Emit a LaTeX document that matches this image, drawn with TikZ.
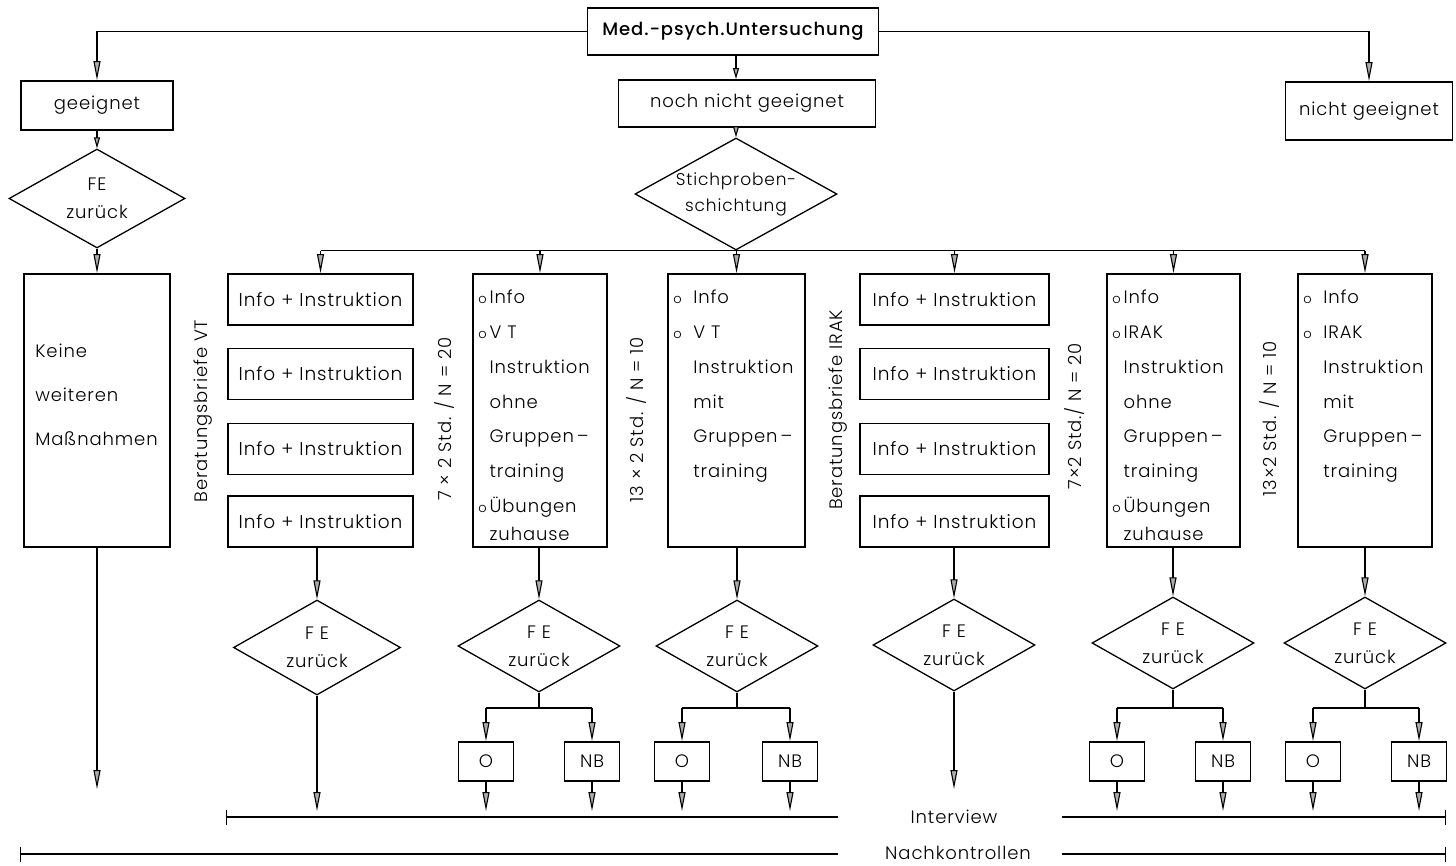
\documentclass[tikz,border=0pt]{standalone}
\usepackage{fontspec}
\setmainfont{Poppins}[UprightFont={* Light}, BoldFont={* Medium}, LetterSpace=5]
\usetikzlibrary{arrows.meta,shapes.geometric}
\newcommand\bul{{\fontsize{13}{13}\selectfont o}}
\begin{document}
\begin{tikzpicture}[x=1pt,y=-1pt,
  font=\fontsize{18}{22}\selectfont,
  box/.style={draw, line width=1.8pt, inner sep=0pt},
  dia/.style={draw, diamond, aspect=1.75, line width=1.3pt, inner sep=0pt, align=center,
     minimum width=162pt, minimum height=92pt, font=\fontsize{18}{28}\selectfont},
  info/.style={box, minimum height=51pt, font=\fontsize{18.5}{22}\selectfont},
  wide/.style={box, minimum height=273pt},
  small/.style={box, minimum width=55pt, minimum height=39pt},
  lst/.style={inner sep=0pt, anchor=north west, align=left, font=\fontsize{18}{34.7}\selectfont},
  vlab/.style={rotate=90, inner sep=0pt},
  con/.style={line width=1.1pt},
  arr/.style={con, -{Triangle[length=19pt,width=7pt,fill=gray!65]}},
  sarr/.style={con, -{Triangle[length=11pt,width=6pt,fill=gray!65]}}
]
\useasboundingbox (0,0) rectangle (1456,866);

% top level
\node[box, minimum width=291pt, minimum height=47pt, font=\fontsize{18}{22}\selectfont\bfseries] (med) at (733,31.5) {Med.-psych.Untersuchung};
\node[box, minimum width=152pt, minimum height=49pt] (gee) at (97,105.5) {geeignet};
\node[box, minimum width=257pt, minimum height=47pt] (noch) at (747,103.5) {noch nicht geeignet};
\node[box, minimum width=167pt, minimum height=58pt] (nicht) at (1369,111) {nicht geeignet};
\draw[arr] (med.west) -| (gee.north);
\draw[arr] (med.east) -| (nicht.north);
\draw[sarr] (med.south -| noch.north) ++(-11,0) coordinate (mx) -- (mx |- noch.north);

% geeignet column
\node[dia, minimum width=176pt, minimum height=99pt] (d0) at (97,198.5) {FE\\zurück};
\node[box, minimum width=146pt, minimum height=273pt] (keine) at (97,410.5) {};
\node[inner sep=0pt, anchor=north west, align=left, font=\fontsize{18}{44}\selectfont] (keinetxt) at ([shift={(12,71)}]keine.north west) {Keine\\weiteren\\Maßnahmen};
\draw[sarr] (gee.south) -- (d0.north);
\draw[arr] (d0.south) -- (keine.north);
\coordinate (endA) at (0,789);
\draw[arr] (keine.south) -- (keine.south |- endA);

% stratification
\node[dia, aspect=1.8, minimum width=202pt, minimum height=112pt, font=\fontsize{17}{26}\selectfont] (strat) at (736,194) {Stichproben-\\schichtung};
\draw[sarr] (mx |- noch.south) -- (strat.north);

% column 1 : Beratungsbriefe VT
\node[info, minimum width=185pt] (a1) at (320.5,299.5) {Info + Instruktion};
\node[info, minimum width=185pt] (a2) at (320.5,374) {Info + Instruktion};
\node[info, minimum width=185pt] (a3) at (320.5,449) {Info + Instruktion};
\node[info, minimum width=185pt] (a4) at (320.5,521.5) {Info + Instruktion};
\node[vlab] (labA) at (203,411) {Beratungsbriefe VT};

% column 2
\node[wide, minimum width=134pt] (b2) at (540,410.5) {};
\node[lst] (t2) at ([shift={(6,17)}]b2.north west) {\bul\,Info\\\bul\,V T\\\phantom{\bul\,}Instruktion\\\phantom{\bul\,}ohne\\\phantom{\bul\,}Gruppen\,--\\\phantom{\bul\,}training\\\bul\,Übungen\\[-6pt]\phantom{\bul\,}zuhause};
\node[vlab] (labB) at (445,419) {7 × 2 Std. / N = 20};

% column 3
\node[wide, minimum width=137pt] (b3) at (736.5,410.5) {};
\node[lst] (t3) at ([shift={(6,17)}]b3.north west) {\bul\ \ Info\\\bul\ \ V T\\\phantom{\bul\ \ }Instruktion\\\phantom{\bul\ \ }mit\\\phantom{\bul\ \ }Gruppen\,--\\\phantom{\bul\ \ }training};
\node[vlab] (labC) at (637,420) {13 × 2 Std. / N = 10};

% column 4 : Beratungsbriefe IRAK
\node[info, minimum width=189pt] (c1) at (954.5,299.5) {Info + Instruktion};
\node[info, minimum width=189pt] (c2) at (954.5,374) {Info + Instruktion};
\node[info, minimum width=189pt] (c3) at (954.5,449) {Info + Instruktion};
\node[info, minimum width=189pt] (c4) at (954.5,521.5) {Info + Instruktion};
\node[vlab] (labD) at (838,410) {Beratungsbriefe IRAK};

% column 5
\node[wide, minimum width=133pt] (b5) at (1173.5,410.5) {};
\node[lst] (t5) at ([shift={(6,17)}]b5.north west) {\bul\,Info\\\bul\,IRAK\\\phantom{\bul\,}Instruktion\\\phantom{\bul\,}ohne\\\phantom{\bul\,}Gruppen\,--\\\phantom{\bul\,}training\\\bul\,Übungen\\[-6pt]\phantom{\bul\,}zuhause};
\node[vlab] (labE) at (1075,416) {7×2 Std./ N = 20};

% column 6
\node[wide, minimum width=134pt] (b6) at (1365,410.5) {};
\node[lst] (t6) at ([shift={(6,17)}]b6.north west) {\bul\ \ Info\\\bul\ \ IRAK\\\phantom{\bul\ \ }Instruktion\\\phantom{\bul\ \ }mit\\\phantom{\bul\ \ }Gruppen\,--\\\phantom{\bul\ \ }training};
\node[vlab] (labF) at (1270,419) {13×2 Std. / N = 10};

% distribution line
\draw[con] (a1.north |- strat.south) -- (b6.north |- strat.south);
\foreach \n in {a1,b2,b3,c1,b5,b6} \draw[arr] (\n.north |- strat.south) -- (\n.north);

% lower diamonds
\node[dia, minimum width=167pt, minimum height=95pt] (d1) at (317,647.5) {F E\\zurück};
\node[dia] (d2) at (539,646) {F E\\zurück};
\node[dia] (d3) at (737,646) {F E\\zurück};
\node[dia] (d4) at (954,645) {F E\\zurück};
\node[dia] (d5) at (1173,643) {F E\\zurück};
\node[dia] (d6) at (1365,643) {F E\\zurück};
\draw[arr] (a4.south -| d1.north) -- (d1.north);
\draw[arr] (b2.south -| d2.north) -- (d2.north);
\draw[arr] (b3.south -| d3.north) -- (d3.north);
\draw[arr] (c4.south -| d4.north) -- (d4.north);
\draw[arr] (b5.south -| d5.north) -- (d5.north);
\draw[arr] (b6.south -| d6.north) -- (d6.north);

% O / NB boxes
\node[small] (o2) at (486,761.5) {O};
\node[small] (n2) at (592,761.5) {NB};
\node[small] (o3) at (682,761.5) {O};
\node[small] (n3) at (790,761.5) {NB};
\node[small] (o5) at (1117,761.5) {O};
\node[small] (n5) at (1223,761.5) {NB};
\node[small] (o6) at (1313,761.5) {O};
\node[small] (n6) at (1419,761.5) {NB};

\coordinate (split) at (0,708);
\coordinate (endB) at (0,811);
\foreach \d/\o/\n in {d2/o2/n2, d3/o3/n3, d5/o5/n5, d6/o6/n6}{
  \draw[con] (\d.south) -- (\d.south |- split);
  \draw[con] (\o.north |- split) -- (\n.north |- split);
  \draw[arr] (\o.north |- split) -- (\o.north);
  \draw[arr] (\n.north |- split) -- (\n.north);
  \draw[arr] (\o.south) -- (\o.south |- endB);
  \draw[arr] (\n.south) -- (\n.south |- endB);
}
\draw[arr] (d1.south) -- (d1.south |- endB);
\draw[arr] (d4.south) -- (d4.south |- endA);

% Interview / Nachkontrollen
\node[inner sep=0pt] (iv) at (954,817) {Interview};
\node[inner sep=0pt] (nk) at (958,853) {Nachkontrollen};
\coordinate (ivL1) at (226,817);
\coordinate (ivL2) at (838,817);
\coordinate (ivR1) at (1062,817);
\coordinate (ivR2) at (1446,817);
\coordinate (nkL1) at (20,854);
\coordinate (nkL2) at (838,854);
\coordinate (nkR1) at (1062,854);
\coordinate (nkR2) at (1446,854);
\draw[con, {Bar[width=15pt]}-] (ivL1) -- (ivL2);
\draw[con, -{Bar[width=15pt]}] (ivR1) -- (ivR2);
\draw[con, {Bar[width=15pt]}-] (nkL1) -- (nkL2);
\draw[con, -{Bar[width=15pt]}] (nkR1) -- (nkR2);
\end{tikzpicture}
\end{document}
